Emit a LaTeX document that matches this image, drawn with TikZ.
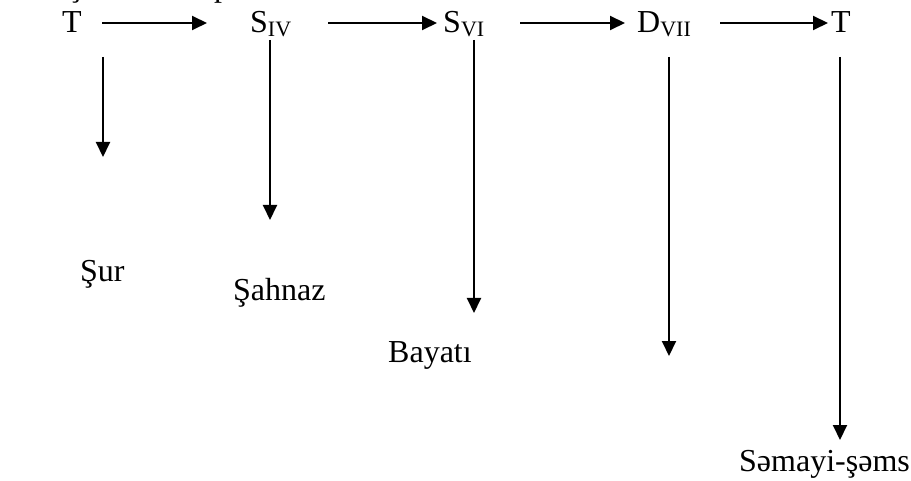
\documentclass[tikz,border=0pt]{standalone}
\usepackage{fontspec}
\setmainfont{Liberation Serif}
\usetikzlibrary{arrows.meta}
% lowered, smaller degree numeral after a chord letter
\newcommand\chordidx[1]{\raisebox{-0.12em}{\fontsize{22}{22}\selectfont #1}}
\begin{document}
\begin{tikzpicture}[x=1pt,y=-1pt,
  lbl/.style={inner sep=0pt,anchor=base west,font=\fontsize{32}{38}\selectfont},
  arr/.style={line width=2pt,-{Triangle[length=15pt,width=14pt]}}]
\useasboundingbox (0,0) rectangle (911,481);
\clip (0,0) rectangle (911,481);

% tail of the preceding text line
\node[lbl] (frag1) at (70,-3) {ş};
\node[lbl] (frag2) at (214,-3) {p};

% chord chain
\node[lbl] (t1) at (62,33) {T};
\node[lbl] (s4) at (250,33) {S\chordidx{IV}};
\node[lbl] (s6) at (443,33) {S\chordidx{VI}};
\node[lbl] (d7) at (637,33) {D\chordidx{VII}};
\node[lbl] (t2) at (831,33) {T};

\coordinate (h1a) at (102,23); \coordinate (h1b) at (207,23);
\coordinate (h2a) at (328,23); \coordinate (h2b) at (437,23);
\coordinate (h3a) at (520,23); \coordinate (h3b) at (625,23);
\coordinate (h4a) at (720,23); \coordinate (h4b) at (828,23);
\draw[arr] (h1a) -- (h1b);
\draw[arr] (h2a) -- (h2b);
\draw[arr] (h3a) -- (h3b);
\draw[arr] (h4a) -- (h4b);

% mugham names
\node[lbl] (sur) at (80,282) {Şur};
\node[lbl] (sah) at (233,301) {Şahnaz};
\node[lbl] (bay) at (388,362) {Bayatı};
\node[lbl] (sem) at (739,471) {Səmayi-şəms};

\coordinate (v1a) at (103,57);  \coordinate (v1b) at (103,157);
\coordinate (v2a) at (270,40);  \coordinate (v2b) at (270,220);
\coordinate (v3a) at (474,40);  \coordinate (v3b) at (474,313);
\coordinate (v4a) at (669,57);  \coordinate (v4b) at (669,356);
\coordinate (v5a) at (840,57);  \coordinate (v5b) at (840,440);
\draw[arr] (v1a) -- (v1b);
\draw[arr] (v2a) -- (v2b);
\draw[arr] (v3a) -- (v3b);
\draw[arr] (v4a) -- (v4b);
\draw[arr] (v5a) -- (v5b);
\end{tikzpicture}
\end{document}
